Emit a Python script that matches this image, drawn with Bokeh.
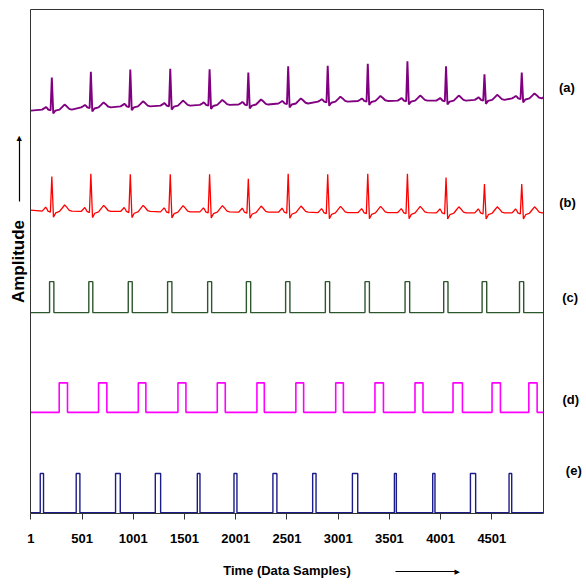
import math
from bokeh.plotting import figure
from bokeh.models import Range1d, FixedTicker, Label, LinearAxis
from bokeh.embed import file_html
from bokeh.resources import INLINE

# ---------------- data ----------------
x_ticks = [1, 501, 1001, 1501, 2001, 2501, 3001, 3501, 4001, 4501]
x_start, x_end = 1, 5001
y_bottom, y_top = 0, 14

# R-peak sample positions (shared by the two ECG traces)
r_pos = [206, 587, 972, 1362, 1746, 2124, 2513, 2899, 3290, 3677, 4054, 4429, 4793]

# (a) raw ECG: R-peak level, per-beat baseline level
a_peak = [12.11, 12.27, 12.33, 12.35, 12.34, 12.25, 12.42, 12.44, 12.49, 12.56, 12.42, 12.20, 12.25]
a_base = [11.22, 11.28, 11.31, 11.33, 11.35, 11.36, 11.39, 11.44, 11.46, 11.47, 11.47, 11.49, 11.53]
a_first, a_last = 11.19, 11.56
# beat shape around R: (sample offset, level above baseline); None = R peak
a_shape = [(-95, 0.0), (-72, 0.04), (-58, 0.07), (-45, 0.04), (-35, 0.0), (-12, -0.02), (0, None),
           (14, -0.11), (35, -0.03), (75, 0.0), (100, 0.07), (124, 0.14), (145, 0.09), (170, 0.02), (195, 0.0)]

# (b) filtered ECG
b_peak = [9.36, 9.44, 9.42, 9.42, 9.42, 9.30, 9.44, 9.42, 9.44, 9.44, 9.33, 9.15, 9.15]
b_base = [8.40, 8.39, 8.39, 8.38, 8.38, 8.37, 8.37, 8.36, 8.36, 8.36, 8.35, 8.35, 8.35]
b_first, b_last = 8.43, 8.35
b_shape = [(-95, 0.0), (-75, 0.06), (-60, 0.11), (-48, 0.06), (-38, 0.0), (-14, -0.03), (0, None),
           (16, -0.17), (38, -0.05), (75, -0.01), (100, 0.08), (125, 0.17), (145, 0.11), (170, 0.02), (195, 0.0)]

# (c) QRS pulses
c_start = [184, 567, 952, 1336, 1727, 2105, 2488, 2876, 3263, 3654, 4031, 4406, 4771]
c_end = [226, 606, 991, 1378, 1766, 2147, 2530, 2918, 3306, 3699, 4073, 4451, 4812]
c_low, c_high = 5.58, 6.44

# (d) T-wave pulses
d_start = [278, 662, 1050, 1437, 1821, 2208, 2588, 2977, 3360, 3751, 4122, 4503, 4862]
d_end = [359, 743, 1124, 1515, 1899, 2280, 2664, 3052, 3443, 3829, 4214, 4585, 4943]
d_low, d_high = 2.81, 3.63

# (e) P-wave pulses
e_start = [93, 444, 828, 1216, 1626, 1984, 2364, 2752, 3140, 3550, 3924, 4292, 4669]
e_end = [125, 480, 874, 1268, 1652, 2013, 2403, 2785, 3192, 3569, 3946, 4343, 4695]
e_low, e_high = 0.02, 1.11

trace_labels = ["(a)", "(b)", "(c)", "(d)", "(e)"]
label_x = [5233, 5240, 5266, 5271, 5301]
label_y = [11.84, 8.65, 6.01, 3.16, 1.19]


def ecg_line(pos, peaks, bases, first, last, shape):
    xs, ys = [x_start], [first]
    for r, pk, b in zip(pos, peaks, bases):
        for off, lvl in shape:
            xs.append(r + off)
            ys.append(pk if lvl is None else b + lvl)
    xs.append(x_end)
    ys.append(last)
    return xs, ys


def pulse_line(starts, ends, low, high):
    xs, ys = [x_start], [low]
    for s, e in zip(starts, ends):
        xs += [s, s, e, e]
        ys += [low, high, high, low]
    xs.append(x_end)
    ys.append(low)
    return xs, ys


def bare_axis(loc, bounds, color, width=1):
    return LinearAxis(fixed_location=loc, bounds=bounds, ticker=FixedTicker(ticks=[]),
                      major_tick_out=0, major_tick_in=0, minor_tick_line_color=None,
                      axis_line_color=color, axis_line_width=width)


FONT = "Liberation Sans"
AX = "#333333"

# the frame fills the whole canvas; axes sit at fixed data locations inside it
p = figure(width=586, height=584, output_backend="svg", toolbar_location=None,
           x_range=Range1d(-295, 5425), y_range=Range1d(-1.972, 14.25),
           min_border=0, min_border_left=0, min_border_right=0, min_border_top=0, min_border_bottom=0)
p.background_fill_color = "white"
p.border_fill_color = "white"
p.outline_line_color = None
p.xgrid.visible = False
p.ygrid.visible = False

# x axis (bottom edge of the box)
xa = p.xaxis[0]
xa.fixed_location = y_bottom
xa.bounds = (x_start, x_end)
xa.ticker = FixedTicker(ticks=x_ticks)
xa.minor_tick_line_color = None
xa.major_tick_out = 6
xa.major_tick_in = 0
xa.major_tick_line_color = AX
xa.axis_line_color = AX
xa.major_label_standoff = 14
xa.major_label_text_font = FONT
xa.major_label_text_font_style = "bold"
xa.major_label_text_font_size = "13px"
xa.major_label_text_color = "black"
xa.axis_label = "Time (Data Samples)"
xa.axis_label_text_font = FONT
xa.axis_label_text_font_style = "bold"
xa.axis_label_text_font_size = "13px"
xa.axis_label_text_color = "black"
xa.axis_label_standoff = 17

# y axis (left edge of the box)
ya = p.yaxis[0]
ya.fixed_location = x_start
ya.bounds = (y_bottom, y_top)
ya.ticker = FixedTicker(ticks=[])
ya.minor_tick_line_color = None
ya.major_tick_out = 0
ya.major_tick_in = 0
ya.axis_line_color = AX
ya.axis_label = "Amplitude"
ya.axis_label_text_font = FONT
ya.axis_label_text_font_style = "bold"
ya.axis_label_text_font_size = "17px"
ya.axis_label_text_color = "black"
ya.axis_label_standoff = 3

# right and top edges of the box
p.add_layout(bare_axis(x_end, (y_bottom, y_top), AX), "right")
p.add_layout(bare_axis(y_top, (x_start, x_end), AX), "above")

# traces
ax, ay = ecg_line(r_pos, a_peak, a_base, a_first, a_last, a_shape)
p.line(ax, ay, line_color="#800080", line_width=1.9)
bx, by = ecg_line(r_pos, b_peak, b_base, b_first, b_last, b_shape)
p.line(bx, by, line_color="#ff0000", line_width=1.3)
cx, cy = pulse_line(c_start, c_end, c_low, c_high)
p.line(cx, cy, line_color="#2c562c", line_width=1.4)
dx, dy = pulse_line(d_start, d_end, d_low, d_high)
p.line(dx, dy, line_color="#ff00ff", line_width=1.6)
ex, ey = pulse_line(e_start, e_end, e_low, e_high)
p.line(ex, ey, line_color="#1c1c88", line_width=1.4)

for t, lx, ly in zip(trace_labels, label_x, label_y):
    p.add_layout(Label(x=lx, y=ly, text=t, text_font=FONT, text_font_style="bold",
                       text_font_size="13px", text_align="center", text_baseline="middle",
                       text_color="black"))

# arrows: shafts as bare axis lines, heads as small triangles
HEAD = "\u25B6"
p.add_layout(bare_axis(-113, (8.67, 10.35), "black", 1.2), "left")
p.add_layout(Label(x=-113, y=10.5, text=HEAD, text_font="DejaVu Sans", text_font_size="7px",
                   text_align="right", text_baseline="middle", angle=math.pi / 2, text_color="black"))
p.add_layout(bare_axis(-1.62, (3564, 4150), "black", 1.2), "below")
p.add_layout(Label(x=4189, y=-1.62, text=HEAD, text_font="DejaVu Sans", text_font_size="7px",
                   text_align="right", text_baseline="middle", text_color="black"))

open("out.html", "w").write(file_html(p, INLINE))
